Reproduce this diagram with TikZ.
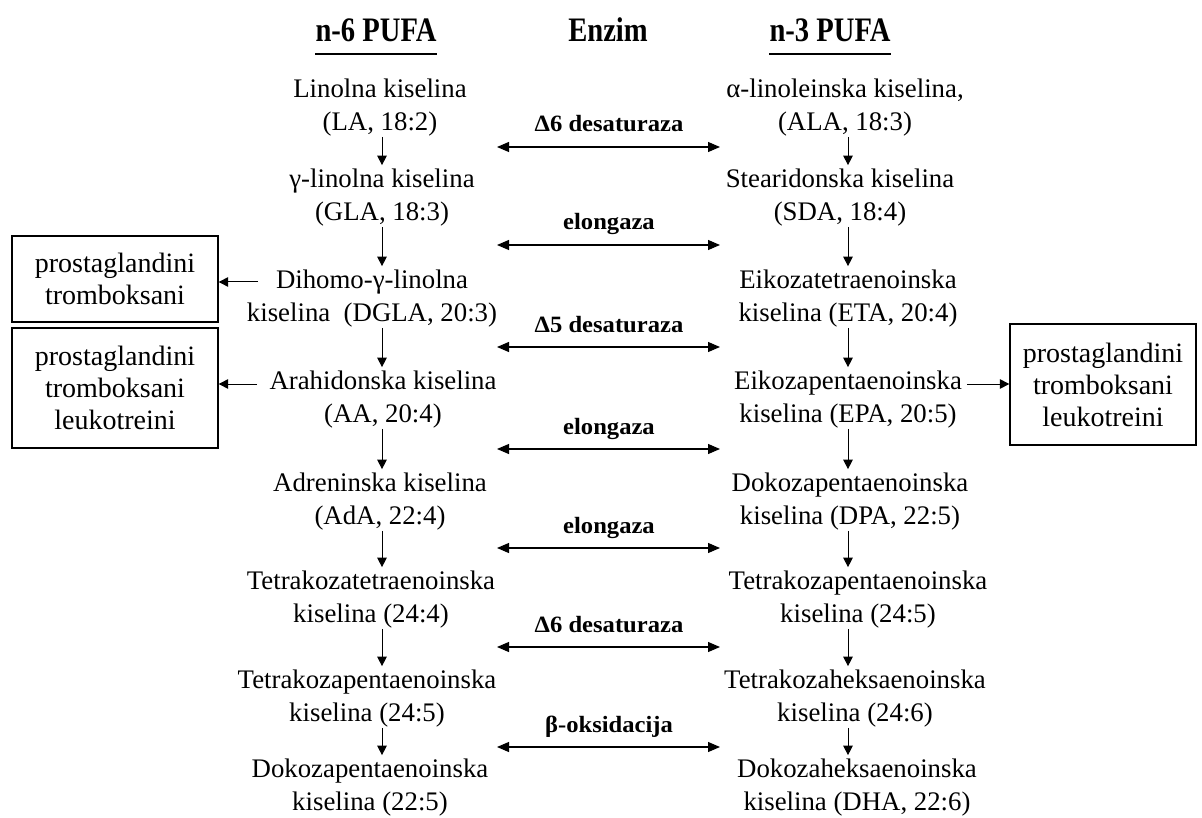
\documentclass[tikz,border=0pt]{standalone}
\usepackage{fontspec}
\setmainfont{Liberation Serif}
\usetikzlibrary{arrows.meta,calc}
\begin{document}
\begin{tikzpicture}[x=1pt,y=-1pt,
  cmp/.style={align=center,inner sep=0pt,font=\fontsize{26.8}{33}\selectfont},
  hdr/.style={inner sep=0pt,font=\fontsize{28.6}{34}\selectfont\bfseries},
  enz/.style={inner sep=0pt,font=\fontsize{24.6}{30}\selectfont\bfseries},
  prod/.style={draw,line width=1.3pt,align=center,inner sep=0pt,font=\fontsize{28}{32}\selectfont},
  arr/.style={-{Triangle[length=9.5pt,width=9.5pt]},line width=1pt},
  darr/.style={{Triangle[length=12pt,width=10pt]}-{Triangle[length=12pt,width=10pt]},line width=1.1pt}]
\useasboundingbox (0,0) rectangle (1202,818);

% headers
\node[hdr,anchor=base] (h1) at (376,42) {\scalebox{1}[1.2]{n-6 PUFA}};
\node[hdr,anchor=base] (h2) at (608,42) {\scalebox{1}[1.2]{Enzim}};
\node[hdr,anchor=base] (h3) at (830,42) {\scalebox{1}[1.2]{n-3 PUFA}};
\draw[line width=2pt] ([yshift=-12pt]h1.base west) -- ([yshift=-12pt]h1.base east);
\draw[line width=2pt] ([yshift=-12pt]h3.base west) -- ([yshift=-12pt]h3.base east);

% column axes
\coordinate (cL) at (382,0);
\coordinate (cR) at (848,0);
\coordinate (eL) at (497,0);
\coordinate (eR) at (720,0);

% n-6 column
\node[cmp] (l1) at (380,108) {Linolna kiselina\\(LA, 18:2)};
\node[cmp] (l2) at (382,198) {γ-linolna kiselina\\(GLA, 18:3)};
\node[cmp] (l3) at (372,299) {Dihomo-γ-linolna\\kiselina~ (DGLA, 20:3)};
\node[cmp] (l4) at (383,400) {Arahidonska kiselina\\(AA, 20:4)};
\node[cmp] (l5) at (380,502) {Adreninska kiselina\\(AdA, 22:4)};
\node[cmp] (l6) at (371,600) {Tetrakozatetraenoinska\\kiselina (24:4)};
\node[cmp] (l7) at (367,699) {Tetrakozapentaenoinska\\kiselina (24:5)};
\node[cmp] (l8) at (370,788) {Dokozapentaenoinska\\kiselina (22:5)};

% n-3 column
\node[cmp] (r1) at (845,108) {α-linoleinska kiselina,\\(ALA, 18:3)};
\node[cmp] (r2) at (840,198) {Stearidonska kiselina\\(SDA, 18:4)};
\node[cmp] (r3) at (848,299) {Eikozatetraenoinska\\kiselina (ETA, 20:4)};
\node[cmp] (r4) at (848,400) {Eikozapentaenoinska\\kiselina (EPA, 20:5)};
\node[cmp] (r5) at (850,502) {Dokozapentaenoinska\\kiselina (DPA, 22:5)};
\node[cmp] (r6) at (858,600) {Tetrakozapentaenoinska\\kiselina (24:5)};
\node[cmp] (r7) at (855,699) {Tetrakozaheksaenoinska\\kiselina (24:6)};
\node[cmp] (r8) at (857,788) {Dokozaheksaenoinska\\kiselina (DHA, 22:6)};

% vertical arrows
\foreach \a/\b in {1/2,2/3,3/4,4/5,5/6,6/7,7/8}{
  \draw[arr,shorten >=4pt] (l\a.south -| cL) -- (l\b.north -| cL);
  \draw[arr,shorten >=4pt] (r\a.south -| cR) -- (r\b.north -| cR);
}

% enzymes
\node[enz,anchor=base] (en1) at (609,132) {\scalebox{1}[0.95]{Δ6 desaturaza}};
\node[enz,anchor=base] (en2) at (609,230) {\scalebox{1}[0.95]{elongaza}};
\node[enz,anchor=base] (en3) at (609,332) {\scalebox{1}[0.95]{Δ5 desaturaza}};
\node[enz,anchor=base] (en4) at (609,434) {\scalebox{1}[0.95]{elongaza}};
\node[enz,anchor=base] (en5) at (609,533) {\scalebox{1}[0.95]{elongaza}};
\node[enz,anchor=base] (en6) at (609,632) {\scalebox{1}[0.95]{Δ6 desaturaza}};
\node[enz,anchor=base] (en7) at (609,732) {\scalebox{1}[0.95]{β-oksidacija}};
\foreach \i in {1,...,7}{
  \draw[darr] ($(en\i.base -| eL)+(0,15)$) -- ($(en\i.base -| eR)+(0,15)$);
}

% product boxes
\node[prod,minimum width=206pt,minimum height=86pt] (b1) at (115,279) {prostaglandini\\tromboksani};
\node[prod,minimum width=206pt,minimum height=120pt] (b2) at (115,388) {prostaglandini\\tromboksani\\leukotreini};
\node[prod,minimum width=186pt,minimum height=121pt] (b3) at (1103,384.5) {prostaglandini\\tromboksani\\leukotreini};

\coordinate (a3) at (258,282);
\coordinate (a4) at (257,384);
\coordinate (a5) at (967,384);
\draw[arr] (a3) -- (a3 -| b1.east);
\draw[arr] (a4) -- (a4 -| b2.east);
\draw[arr] (a5) -- (a5 -| b3.west);
\end{tikzpicture}
\end{document}
